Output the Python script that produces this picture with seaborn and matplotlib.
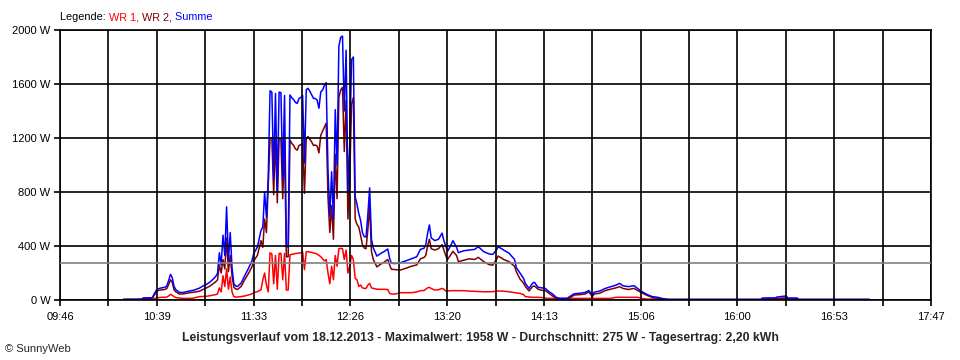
import numpy as np
import pandas as pd
import matplotlib
matplotlib.use('Agg')
import matplotlib.pyplot as plt
import seaborn as sns

# Leistungsverlauf 18.12.2013, Werte in W
TIMES = [
    "10:21", "10:31", "10:32", "10:37", "10:38", "10:39", "10:40", "10:42", "10:44", "10:45",
    "10:46", "10:47", "10:48", "10:49", "10:50", "10:52", "10:54", "10:56", "10:58", "11:00",
    "11:03", "11:05", "11:07", "11:09", "11:11", "11:12", "11:13", "11:14", "11:15", "11:16",
    "11:17", "11:18", "11:19", "11:20", "11:21", "11:22", "11:23", "11:24", "11:26", "11:28",
    "11:30", "11:32", "11:33", "11:35", "11:37", "11:38", "11:39", "11:40", "11:41", "11:42",
    "11:43", "11:44", "11:45", "11:46", "11:47", "11:48", "11:49", "11:50", "11:51", "11:52",
    "11:53", "11:54", "11:55", "11:56", "11:57", "11:58", "11:59", "12:00", "12:01", "12:02",
    "12:03", "12:04", "12:05", "12:06", "12:07", "12:08", "12:09", "12:10", "12:11", "12:12",
    "12:13", "12:14", "12:15", "12:16", "12:17", "12:18", "12:19", "12:20", "12:21", "12:22",
    "12:23", "12:24", "12:25", "12:26", "12:27", "12:28", "12:29", "12:30", "12:31", "12:32",
    "12:33", "12:34", "12:35", "12:36", "12:37", "12:38", "12:39", "12:41", "12:43", "12:45",
    "12:47", "12:48", "12:49", "12:51", "12:54", "12:57", "13:00", "13:03", "13:05", "13:07",
    "13:08", "13:09", "13:10", "13:11", "13:13", "13:15", "13:17", "13:18", "13:19", "13:20",
    "13:22", "13:23", "13:25", "13:26", "13:29", "13:32", "13:35", "13:37", "13:40", "13:43",
    "13:45", "13:47", "13:48", "13:51", "13:54", "13:57", "13:58", "14:00", "14:02", "14:03",
    "14:05", "14:07", "14:08", "14:10", "14:12", "14:14", "14:16", "14:18", "14:20", "14:22",
    "14:26", "14:28", "14:30", "14:33", "14:36", "14:38", "14:40", "14:41", "14:44", "14:47",
    "14:50", "14:53", "14:55", "14:57", "15:00", "15:03", "15:05", "15:07", "15:10", "15:13",
    "15:16", "15:19", "15:22", "15:57", "16:00", "16:13", "16:14", "16:21", "16:22", "16:27",
    "16:28", "16:33", "16:34", "17:13",
]
WR1 = [
    0, 0, 2, 4, 10, 15, 17, 20, 20, 22,
    30, 42, 35, 25, 18, 14, 12, 12, 12, 15,
    25, 26, 28, 32, 37, 40, 45, 90, 60, 180,
    100, 230, 80, 170, 60, 25, 22, 22, 25, 30,
    37, 45, 54, 62, 75, 150, 200, 110, 60, 350,
    340, 120, 330, 80, 345, 346, 150, 345, 74, 74,
    335, 338, 340, 344, 346, 348, 350, 355, 225, 358,
    358, 355, 352, 348, 345, 340, 330, 321, 305, 290,
    300, 200, 120, 250, 150, 330, 250, 380, 383, 380,
    300, 370, 200, 250, 330, 300, 160, 150, 100, 111,
    90, 86, 86, 110, 123, 90, 86, 80, 79, 79,
    78, 50, 44, 44, 54, 54, 54, 60, 69, 70,
    80, 90, 94, 85, 74, 76, 86, 80, 67, 67,
    69, 69, 69, 69, 69, 66, 64, 62, 61, 61,
    62, 65, 67, 65, 61, 55, 52, 49, 40, 25,
    22, 20, 20, 20, 18, 14, 12, 12, 12, 12,
    12, 12, 12, 12, 12, 12, 12, 12, 12, 12,
    12, 20, 20, 20, 20, 20, 20, 12, 7, 7,
    7, 5, 2, 2, 2, 2, 7, 8, 12, 14,
    7, 7, 2, 2,
]
WR2 = [
    4, 5, 12, 14, 35, 55, 70, 75, 78, 85,
    115, 150, 130, 75, 60, 44, 45, 50, 55, 58,
    65, 78, 90, 105, 125, 135, 150, 260, 200, 300,
    230, 460, 210, 330, 180, 95, 82, 78, 100, 150,
    195, 245, 290, 330, 440, 390, 600, 500, 850, 1200,
    1200, 780, 1200, 720, 1195, 1190, 750, 1170, 320, 320,
    1185, 1160, 1145, 1120, 1110, 1145, 1150, 1160, 790, 1200,
    1210, 1190, 1170, 1145, 1148, 1140, 1090, 1220, 1250, 1280,
    1310, 760, 500, 700, 450, 1080, 750, 1500, 1556, 1575,
    1100, 1480, 600, 900, 1450, 1500, 600, 560, 540, 480,
    410, 385, 380, 520, 700, 360, 300, 245, 265, 280,
    300, 260, 228, 225, 222, 235, 250, 260, 305, 315,
    330, 400, 450, 380, 370, 380, 410, 370, 330, 300,
    340, 360, 330, 284, 295, 305, 300, 316, 284, 262,
    258, 300, 326, 300, 284, 250, 210, 156, 125, 100,
    67, 100, 104, 80, 72, 70, 50, 30, 12, 5,
    5, 20, 37, 40, 44, 60, 25, 44, 50, 69,
    80, 90, 99, 85, 78, 86, 70, 55, 35, 20,
    12, 5, 3, 3, 3, 3, 8, 8, 10, 14,
    8, 8, 3, 3,
]
SUMME = [
    5, 6, 15, 17, 45, 68, 82, 90, 94, 105,
    145, 190, 165, 100, 76, 56, 56, 62, 68, 73,
    88, 104, 116, 135, 160, 175, 198, 350, 260, 480,
    330, 690, 290, 500, 240, 120, 104, 100, 125, 180,
    232, 290, 344, 392, 515, 540, 800, 610, 910, 1550,
    1540, 900, 1530, 800, 1540, 1536, 900, 1515, 394, 394,
    1519, 1498, 1485, 1464, 1456, 1493, 1500, 1515, 1015, 1558,
    1568, 1545, 1520, 1493, 1493, 1480, 1420, 1541, 1555, 1590,
    1610, 960, 620, 950, 600, 1410, 1000, 1880, 1945, 1955,
    1400, 1850, 800, 1150, 1780, 1800, 765, 710, 640, 590,
    500, 470, 466, 630, 830, 450, 386, 325, 344, 359,
    378, 310, 272, 270, 276, 290, 305, 320, 375, 383,
    410, 494, 556, 460, 440, 450, 495, 440, 400, 360,
    410, 439, 390, 351, 365, 370, 375, 395, 358, 341,
    338, 370, 395, 370, 346, 301, 240, 200, 160, 123,
    86, 125, 131, 94, 90, 86, 62, 45, 20, 12,
    12, 30, 46, 50, 56, 70, 37, 58, 66, 85,
    98, 110, 123, 105, 99, 106, 85, 65, 42, 25,
    20, 10, 5, 5, 5, 5, 15, 16, 22, 30,
    15, 15, 5, 5,
]
X_LABELS = ["09:46", "10:39", "11:33", "12:26", "13:20", "14:13", "15:06", "16:00", "16:53", "17:47"]
Y_TICKS = [0, 400, 800, 1200, 1600, 2000]
DURCHSCHNITT = 275
TITEL = "Leistungsverlauf vom 18.12.2013 - Maximalwert: 1958 W - Durchschnitt: 275 W - Tagesertrag: 2,20 kWh"

sns.set_theme(style='white')
plt.rcParams['font.family'] = ['Liberation Sans', 'DejaVu Sans']

minutes = [int(t[:2]) * 60 + int(t[3:]) for t in TIMES]
df = pd.DataFrame({'Zeit': minutes, 'WR 1': WR1, 'WR 2': WR2, 'Summe': SUMME})
long_df = df.melt(id_vars='Zeit', var_name='Serie', value_name='Leistung')
farben = {'WR 1': '#ff0000', 'WR 2': '#800000', 'Summe': '#0000ff'}

fig = plt.figure(figsize=(9.6, 3.6), dpi=100)
ax = fig.add_axes([60 / 960, 60 / 360, 871 / 960, 270 / 360])

sns.lineplot(data=long_df, x='Zeit', y='Leistung', hue='Serie', palette=farben,
             hue_order=['WR 1', 'WR 2', 'Summe'], estimator=None, sort=False,
             linewidth=1.1, legend=False, ax=ax)

x_start = int(X_LABELS[0][:2]) * 60 + int(X_LABELS[0][3:])
x_end = int(X_LABELS[-1][:2]) * 60 + int(X_LABELS[-1][3:])
x_pos = np.linspace(x_start, x_end, 2 * len(X_LABELS) - 1)
x_lab = []
for i in range(len(x_pos)):
    x_lab.append(X_LABELS[i // 2] if i % 2 == 0 else '')
ax.set_xlim(x_start, x_end)
ax.set_ylim(Y_TICKS[0], Y_TICKS[-1])
ax.set_xticks(x_pos, x_lab)
ax.set_yticks(Y_TICKS, [f'{v} W' for v in Y_TICKS])
ax.set_xlabel('')
ax.set_ylabel('')

ax.set_axisbelow(False)
ax.grid(True, color='black', linewidth=1.2)
for s in ax.spines.values():
    s.set_color('black')
    s.set_linewidth(1.2)
ax.tick_params(axis='both', direction='out', length=4, width=1.2, color='black',
               labelsize=8, labelcolor='black', bottom=True, left=True)
ax.tick_params(axis='x', pad=5)
ax.tick_params(axis='y', pad=3)
ax.axhline(DURCHSCHNITT, color='#808080', linewidth=1.2, zorder=2.6)

# Legende oben links
teile = [('Legende: ', 'black'), ('WR 1,', farben['WR 1']), (' WR 2,', farben['WR 2']), (' Summe', farben['Summe'])]
fig.canvas.draw()
renderer = fig.canvas.get_renderer()
x_px = 60
for txt, col in teile:
    t = fig.text(x_px / 960, 1 - 17 / 360, txt, color=col, fontsize=7.8, va='center', ha='left')
    x_px += t.get_window_extent(renderer).width

fig.text(0.5, 1 - 337.5 / 360, TITEL, ha='center', va='center', fontsize=8.8, fontweight='bold')
fig.text(5 / 960, 1 - 349 / 360, '© SunnyWeb', ha='left', va='center', fontsize=8)

fig.savefig('out.png', dpi=100)
plt.close(fig)
